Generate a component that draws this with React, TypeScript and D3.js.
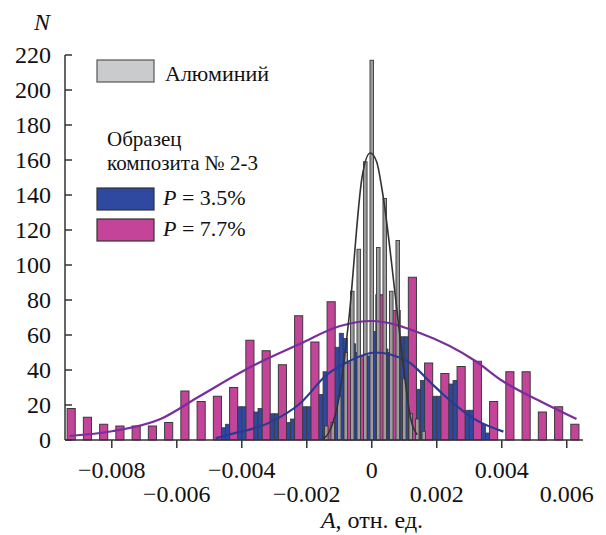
import React from "react";
import * as d3 from "d3";

// pink: composite P = 7.7%, bins of 0.0005
const pinkStart = -0.00925;
const pinkStep = 0.0005;
const pinkCounts = [18, 13, 9, 8, 8, 8, 10, 28, 22, 25, 30, 57, 51, 43, 71, 56, 79, 44, 48, 83, 74, 93, 44, 38, 42, 45, 22, 39, 39, 16, 19, 9];

// blue: composite P = 3.5%, bins of 0.000125 (the ones under pink bars are hidden)
const blueStart = -0.004875;
const blueStep = 0.000125;
const blueCounts = [
  0, 0, 7, 9, 0, 0, 19, 19, 0, 0, 16, 18, 0, 0, 15, 15, 0, 0, 10, 12, 0, 0, 19, 19,
  0, 0, 26, 39, 0, 0, 53, 61, 58, 0, 55, 50, 0, 0, 48, 62, 0, 0, 52, 50, 0, 0, 59, 59,
  0, 0, 29, 34, 0, 0, 25, 25, 0, 0, 32, 34, 0, 0, 17, 17, 0, 0, 9, 4,
];

// grey: aluminium, bins of 0.0002 centred on k*0.0002
const greyStart = -0.0014;
const greyStep = 0.0002;
const greyCounts = [8, 10, 25, 50, 85, 109, 159, 217, 110, 138, 85, 114, 35, 15, 12, 5];

// fitted curves
const alA = [-0.00155, -0.0013, -0.001, -0.0007, -0.0003, -0.00005, 0.00015, 0.0003, 0.00036, 0.00077, 0.001, 0.0012, 0.0014];
const alN = [0, 5, 25, 70, 150, 164, 159, 145, 138, 75, 38, 12, 3];
const pinkFitA = [-0.0093, -0.008, -0.0065, -0.0053, -0.0037, -0.0022, -0.001, 0, 0.0015, 0.0032, 0.004, 0.0052, 0.0063];
const pinkFitN = [2.3, 5, 12, 25, 42, 55, 65, 68, 61, 45, 34, 22, 12];
const blueFitA = [-0.0048, -0.0044, -0.0032, -0.0022, -0.0014, -0.0007, 0.0001, 0.0011, 0.0018, 0.0022, 0.0032, 0.00405];
const blueFitN = [1, 3, 9.5, 21, 37, 45, 50, 45, 33, 26, 11.5, 4.8];

const yTicks = [0, 20, 40, 60, 80, 100, 120, 140, 160, 180, 200, 220];
const xTicks = [-0.008, -0.006, -0.004, -0.002, 0, 0.002, 0.004, 0.006];

const PINK = "#c4449a";
const BLUE = "#2f48a0";
const GREY = "#9c9c9c";
const EDGE = "#3a3a3a";
const FONT = "Liberation Serif";

const fmt = (v: number) => (v === 0 ? "0" : (v < 0 ? "\u2212" : "") + Math.abs(v).toFixed(3));

export default function App() {
  const x = d3.scaleLinear().domain([-0.00944, 0.0065]).range([65, 583]);
  const y = d3.scaleLinear().domain([0, 220]).range([440, 55]);

  const line = (as: number[], ns: number[]) =>
    d3
      .line<number>()
      .x((_, i) => x(as[i]))
      .y((n) => y(n))
      .curve(d3.curveMonotoneX)(ns) || "";

  const pinkHalf = pinkStep / 4;
  const greyHalf = 0.000055;

  return (
    <svg width={606} height={535} style={{ position: "absolute", left: 0, top: 0, background: "#fff" }}>
      {/* pink bars */}
      {pinkCounts.map((n, i) => {
        const c = pinkStart + i * pinkStep;
        return (
          <rect
            key={"p" + i}
            x={x(c - pinkHalf)}
            y={y(n)}
            width={x(c + pinkHalf) - x(c - pinkHalf)}
            height={y(0) - y(n)}
            fill={PINK}
            stroke={EDGE}
            strokeWidth={1}
          />
        );
      })}
      {/* blue bars */}
      {blueCounts.map((n, j) => {
        if (!n) return null;
        const a = blueStart + j * blueStep;
        return (
          <rect
            key={"b" + j}
            x={x(a)}
            y={y(n)}
            width={x(a + blueStep) - x(a)}
            height={y(0) - y(n)}
            fill={BLUE}
            stroke={EDGE}
            strokeWidth={0.8}
          />
        );
      })}
      {/* grey bars */}
      {greyCounts.map((n, k) => {
        const c = greyStart + k * greyStep;
        return (
          <rect
            key={"g" + k}
            x={x(c - greyHalf)}
            y={y(n)}
            width={x(c + greyHalf) - x(c - greyHalf)}
            height={y(0) - y(n)}
            fill={GREY}
            stroke={EDGE}
            strokeWidth={0.9}
          />
        );
      })}

      {/* fitted curves */}
      <path d={line(pinkFitA, pinkFitN)} fill="none" stroke="#7a2d9c" strokeWidth={2.2} />
      <path d={line(blueFitA, blueFitN)} fill="none" stroke="#2c3994" strokeWidth={2.2} />
      <path d={line(alA, alN)} fill="none" stroke="#333" strokeWidth={1.6} />

      {/* axes */}
      <line x1={65} x2={65} y1={y(220)} y2={y(0)} stroke="#333" strokeWidth={1.5} />
      <line x1={65} x2={583} y1={y(0)} y2={y(0)} stroke="#333" strokeWidth={1.5} />
      {yTicks.map((t) => (
        <g key={"yt" + t}>
          <line x1={65} x2={72} y1={y(t)} y2={y(t)} stroke="#333" strokeWidth={1.5} />
          <text x={51} y={y(t)} dy="0.35em" textAnchor="end" fontFamily={FONT} fontSize={24} fill="#111">
            {t}
          </text>
        </g>
      ))}
      {xTicks.map((t, i) => (
        <g key={"xt" + i}>
          <line x1={x(t)} x2={x(t)} y1={y(0)} y2={y(0) + 8} stroke="#333" strokeWidth={1.5} />
          <text x={x(t)} y={i % 2 === 0 ? 478 : 502} textAnchor="middle" fontFamily={FONT} fontSize={24} fill="#111">
            {fmt(t)}
          </text>
        </g>
      ))}
      <text x={42} y={30} textAnchor="middle" fontFamily={FONT} fontSize={24} fontStyle="italic" fill="#111">
        N
      </text>
      <text x={372} y={528} textAnchor="middle" fontFamily={FONT} fontSize={24} fill="#111">
        <tspan fontStyle="italic">A</tspan>, отн. ед.
      </text>

      {/* legend */}
      <rect x={97} y={60} width={57} height={22} fill="#c9cbcc" stroke="#555" strokeWidth={1.2} />
      <text x={165} y={81} fontFamily={FONT} fontSize={22} fill="#111">Алюминий</text>
      <text x={107} y={146} fontFamily={FONT} fontSize={21} fill="#111">Образец</text>
      <text x={107} y={170} fontFamily={FONT} fontSize={21} fill="#111">композита № 2-3</text>
      <rect x={97} y={188} width={57} height={22} fill={BLUE} stroke="#333" strokeWidth={1.2} />
      <text x={163} y={205} fontFamily={FONT} fontSize={22} fill="#111">
        <tspan fontStyle="italic">P</tspan> = 3.5%
      </text>
      <rect x={97} y={219} width={57} height={22} fill={PINK} stroke="#333" strokeWidth={1.2} />
      <text x={163} y={236} fontFamily={FONT} fontSize={22} fill="#111">
        <tspan fontStyle="italic">P</tspan> = 7.7%
      </text>
    </svg>
  );
}
